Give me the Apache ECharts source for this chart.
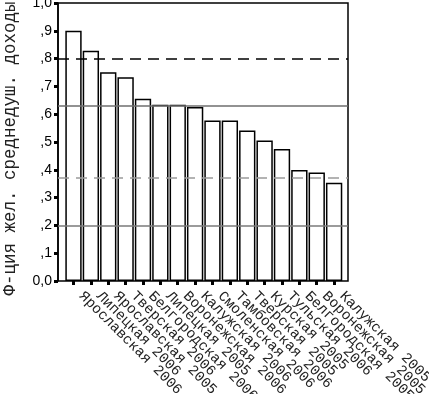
<!DOCTYPE html>
<html><head><meta charset="utf-8">
<script src="https://cdn.jsdelivr.net/npm/echarts@6/dist/echarts.min.js"></script>
<style>html,body{margin:0;padding:0;background:#fff}#c{width:429px;height:394px}</style>
</head><body><div id="c"></div>
<script>
var categories = ['Ярославская 2006','Липецкая 2006','Ярославская 2005','Тверская 2006','Белгородская 2006','Липецкая 2005','Воронежская 2006','Калужская 2006','Смоленская 2006','Тамбовская 2006','Тверская 2005','Курская 2005','Тульская 2006','Белгородская 2005','Воронежская 2005','Калужская 2005'];
var values = [0.900,0.828,0.751,0.733,0.656,0.634,0.634,0.626,0.577,0.577,0.541,0.505,0.475,0.399,0.390,0.353];
var refLines = [0.80, 0.631, 0.367, 0.20];
var yTicks = [0,1,0.1];
var yTitle = 'Ф-ция жел. среднедуш. доходы';

var refStyles = [
  {color:'#000', type:[11,7], width:1.5},
  {color:'#6e6e6e', type:'solid', width:1.5},
  {color:'#9a9a9a', type:[11,7], width:1.5},
  {color:'#7a7a7a', type:'solid', width:1.5}
];
var chart = echarts.init(document.getElementById('c'), null, {renderer:'canvas'});
var option = {
  animation:false,
  backgroundColor:'#fff',
  grid:[
    {left:58, top:3, width:290, height:278, containLabel:false, outerBoundsMode:'none', show:true, borderColor:'#000', borderWidth:1.5, backgroundColor:'transparent'},
    {left:64.8, top:3, width:278, height:278, containLabel:false, outerBoundsMode:'none'}
  ],
  graphic:[
    {type:'text', x:10, y:148.5, rotation:Math.PI/2, silent:true,
     style:{text:yTitle, font:'17.5px "Liberation Mono"', fill:'#222', align:'center', verticalAlign:'middle'}}
  ],
  xAxis:[
    {gridIndex:0, type:'value', min:0, max:1, show:false},
    {gridIndex:1, type:'category', data:categories, boundaryGap:true,
     axisLine:{show:false},
     axisTick:{show:true, alignWithLabel:true, length:4, lineStyle:{color:'#000', width:3}},
     axisLabel:{rotate:-45, interval:0, margin:5, padding:[0,0,0,11], fontFamily:'Liberation Mono', fontSize:14.5, color:'#222'}}
  ],
  yAxis:[
    {gridIndex:0, type:'value', min:yTicks[0], max:yTicks[1], interval:yTicks[2],
     axisLine:{show:true, lineStyle:{color:'#000', width:1.5}},
     axisTick:{show:true, length:4, lineStyle:{color:'#000', width:3}},
     axisLabel:{margin:6, fontFamily:'Liberation Sans', fontSize:14, color:'#000',
       formatter:function(v){ if(Math.abs(v)<1e-9) return '0,0'; if(Math.abs(v-1)<1e-9) return '1,0'; return ','+Math.round(v*10); }},
     splitLine:{show:false}},
    {gridIndex:1, type:'value', min:yTicks[0], max:yTicks[1], show:false}
  ],
  series:[
    {type:'bar', xAxisIndex:1, yAxisIndex:1, data:values, barWidth:'94%',
     itemStyle:{color:'#fff', borderColor:'#000', borderWidth:1.5}},
    {type:'line', xAxisIndex:0, yAxisIndex:0, data:[], silent:true,
     markLine:{symbol:'none', silent:true, label:{show:false}, animation:false,
       data: refLines.map(function(v,i){ return {yAxis:v, lineStyle:refStyles[i]}; })}}
  ]
};
chart.setOption(option);
</script></body></html>
